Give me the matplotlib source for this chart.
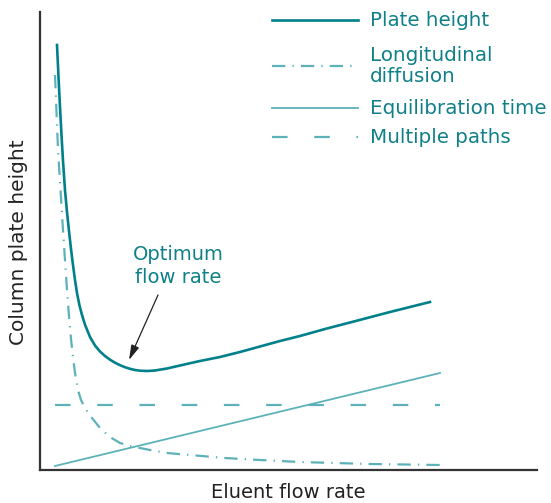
import matplotlib
matplotlib.use("Agg")
import matplotlib.pyplot as plt

# ---- data (arbitrary units) ----
plate_x = [17, 18.5, 20, 21.5, 23, 25, 27, 29, 31, 33, 35, 37, 39.5, 42, 45, 50, 55, 60, 65,
           70, 75, 80, 85, 90, 95, 100, 107, 115, 127, 140, 160, 180, 200, 220, 240, 260, 285, 310, 350, 390]
plate_y = [425, 393, 363, 335, 309, 280, 258, 239, 221, 205, 190, 177, 164.5, 155, 145.3, 133, 124.5, 118.5,
           114, 110.3, 107.3, 104.8, 102.8, 101.2, 100, 99.3, 99, 99.5, 101.5, 104.5, 109, 113, 118, 123.5,
           129, 134, 141, 147.5, 158, 168]

long_x = [15, 16.5, 18, 20.5, 23, 25, 27, 29, 31, 33, 35, 38, 41, 45, 52, 60, 70, 80, 90, 100, 115, 127, 150,
          185, 220, 260, 330, 400]
long_y = [395, 358, 320, 280, 240, 210, 180, 154, 131, 113, 97, 80, 70, 62, 52, 42, 33, 27, 24, 22, 19, 17, 15,
          12, 10, 8, 6, 5]

equil_x = [15, 400]
equil_y = [4, 97]

multi_x = [15, 400]
multi_y = [65, 65]

labels = ["Plate height", "Longitudinal\ndiffusion", "Equilibration time", "Multiple paths"]
xlabel = "Eluent flow rate"
ylabel = "Column plate height"
annot = "Optimum\nflow rate"

dark = "#00808A"
light = "#5DB2B9"
textc = "#0F8088"

W, H = 551, 503
fig = plt.figure(figsize=(W / 100, H / 100), dpi=100)
ax = fig.add_axes([40 / W, (H - 470) / H, (537 - 40) / W, (470 - 12) / H])
ax.set_xlim(0, 497)
ax.set_ylim(0, 458)
for s in ["top", "right"]:
    ax.spines[s].set_visible(False)
for s in ["left", "bottom"]:
    ax.spines[s].set_color("#333333")
    ax.spines[s].set_linewidth(1.6)
ax.set_xticks([])
ax.set_yticks([])

ax.plot(plate_x, plate_y, color=dark, lw=1.9, solid_joinstyle="round")
ax.plot(long_x, long_y, color=light, lw=1.6, dashes=(6, 3.2, 0.6, 3.2))
ax.plot(equil_x, equil_y, color=light, lw=1.3)
ax.plot(multi_x, multi_y, color=light, lw=1.6, dashes=(7, 12))

fs = 14
ax.text(138, 204, annot, ha="center", va="center", color=textc, fontsize=fs, linespacing=1.3)
ax.annotate("", xy=(89, 110), xytext=(118, 175),
            arrowprops=dict(arrowstyle="-|>,head_length=0.9,head_width=0.25",
                            color="#222222", lw=0.9, shrinkA=0, shrinkB=0))

# legend drawn manually in axes data coords
leg_x0, leg_x1, leg_tx = 232, 318, 330
rows = [450, 404, 362, 333]
styles = [dict(color=dark, lw=1.9), dict(color=light, lw=1.6, dashes=(6, 3.2, 0.6, 3.2)),
          dict(color=light, lw=1.3), dict(color=light, lw=1.6, dashes=(7, 12))]
for lab, yy, st in zip(labels, rows, styles):
    ax.plot([leg_x0, leg_x1], [yy, yy], **st)
    ax.text(leg_tx, yy, lab, color=textc, fontsize=14.3, va="center", ha="left", linespacing=1.15)

fig.text(288 / W, 1 - 493 / H, xlabel, ha="center", va="center", fontsize=14, color="#222222")
fig.text(19 / W, 1 - 242 / H, ylabel, ha="center", va="center", rotation=90, fontsize=14.5, color="#222222")

fig.savefig("out.png", dpi=100)
